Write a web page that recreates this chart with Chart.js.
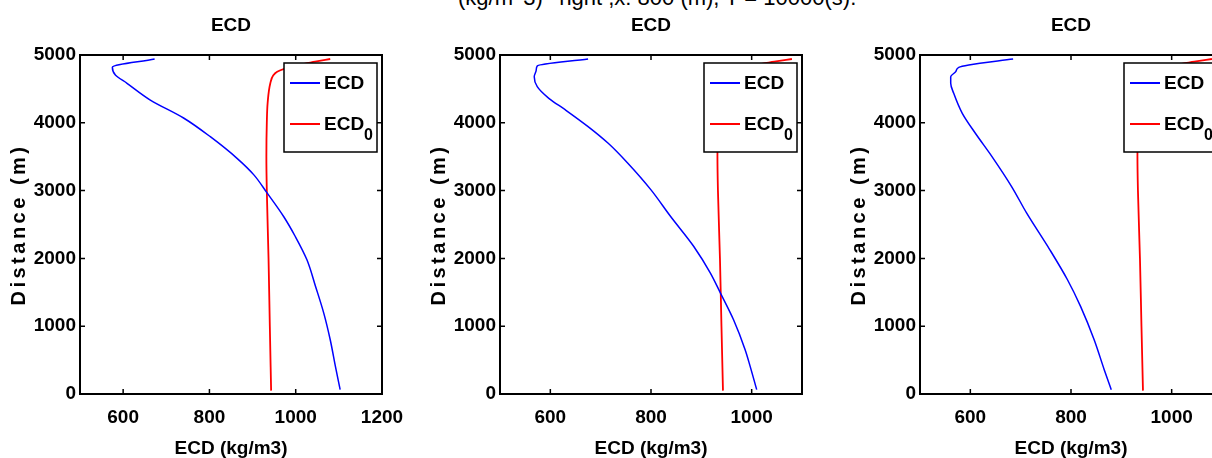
<!DOCTYPE html>
<html>
<head>
<meta charset="utf-8">
<script src="https://cdn.jsdelivr.net/npm/chart.js@4.4.1/dist/chart.umd.min.js"></script>
<style>
    html, body { margin: 0; padding: 0; background: #fff; overflow: hidden; }
    body { width: 1212px; height: 458px; position: relative; }
    .panel { position: absolute; top: 0; width: 420px; height: 458px; }
    #caption {
        position: absolute; left: 458px; top: -13px; white-space: nowrap;
        font: 22px/22px 'Liberation Sans', Arial, sans-serif; color: #000;
    }
</style>
</head>
<body>
<div id="caption">(kg/m^3) ^right ,x: 800 (m), T = 10000(s).</div>
<div class="panel" style="left:0px"><canvas id="c1" width="420" height="458"></canvas></div>
<div class="panel" style="left:420px"><canvas id="c2" width="420" height="458"></canvas></div>
<div class="panel" style="left:840px"><canvas id="c3" width="420" height="458"></canvas></div>
<script>
// values
const yTicks = [0, 1000, 2000, 3000, 4000, 5000];
const xTicksWide = [600, 800, 1000, 1200];
const xTicksNarrow = [600, 800, 1000];

// initial profile (same in all three panels)
const distance0 = [50, 1000, 2000, 3000, 3500, 4000, 4300, 4580, 4700, 4754, 4800, 4860, 4901, 4941];
const ecd0 = [943, 940, 937, 933, 932, 933, 935, 941, 948, 957, 975, 1010, 1045, 1080];

// panel 1
const distance1 = [4941, 4819, 4705, 4583, 4336, 4071, 3795, 3476, 3232, 2962, 2618, 2323, 1979, 1586, 1193, 800, 408, 64];
const ecd1 = [673, 575, 582, 609, 663, 740, 802, 864, 903, 934, 972, 999, 1026, 1046, 1065, 1080, 1092, 1103];

// panel 2
const distance2 = [4941, 4838, 4779, 4681, 4533, 4361, 4190, 3944, 3698, 3404, 3011, 2618, 2176, 1783, 1488, 1095, 653, 408, 64];
const ecd2 = [675, 574, 572, 568, 574, 597, 630, 675, 715, 754, 800, 839, 885, 918, 938, 964, 987, 997, 1010];

// panel 3
const distance3 = [4941, 4853, 4818, 4754, 4681, 4582, 4435, 4140, 3846, 3502, 3060, 2667, 2127, 1685, 1292, 800, 359, 64];
const ecd3 = [685, 597, 577, 571, 561, 561, 567, 584, 610, 643, 682, 712, 758, 793, 819, 846, 866, 880];

const FONT = "'Liberation Sans', Arial, sans-serif";
const Y_TITLE = 'Distance (m)';

Chart.defaults.color = '#000';

function toPoints(xs, ys) {
    return xs.map((x, i) => ({x: x, y: ys[i]}));
}

// wider letter spacing for the y axis title, like the original
const spacingPlugin = {
    id: 'titleSpacing',
    beforeDraw(chart) {
        const ctx = chart.ctx;
        if (ctx._patched) return;
        const orig = ctx.fillText;
        ctx.fillText = function (text, x, y, maxWidth) {
            if (text === Y_TITLE) {
                this.letterSpacing = '3.5px';
                orig.call(this, text, x, y);
                this.letterSpacing = '0px';
            } else {
                orig.call(this, text, x, y, maxWidth);
            }
        };
        ctx._patched = true;
    }
};

// matlab style axes box with inward ticks
const boxPlugin = {
    id: 'matlabBox',
    afterDraw(chart) {
        const ctx = chart.ctx;
        const a = chart.chartArea;
        const len = 5;
        ctx.save();
        ctx.strokeStyle = '#000';
        ctx.lineWidth = 1.5;
        ctx.beginPath();
        chart.scales.x.ticks.forEach(t => {
            const px = chart.scales.x.getPixelForValue(t.value);
            ctx.moveTo(px, a.bottom); ctx.lineTo(px, a.bottom - len);
            ctx.moveTo(px, a.top); ctx.lineTo(px, a.top + len);
        });
        chart.scales.y.ticks.forEach(t => {
            const py = chart.scales.y.getPixelForValue(t.value);
            ctx.moveTo(a.left, py); ctx.lineTo(a.left + len, py);
            ctx.moveTo(a.right, py); ctx.lineTo(a.right - len, py);
        });
        ctx.stroke();
        ctx.lineWidth = 2;
        ctx.strokeRect(a.left, a.top, a.right - a.left, a.bottom - a.top);
        ctx.restore();
    }
};

// legend box inside the plot, with a subscript on ECD0
const legendPlugin = {
    id: 'boxLegend',
    afterDatasetsDraw(chart) {
        const ctx = chart.ctx;
        const a = chart.chartArea;
        const w = 93, h = 89;
        const left = a.right - 5 - w;
        const top = a.top + 8;
        ctx.save();
        ctx.fillStyle = '#fff';
        ctx.fillRect(left, top, w, h);
        ctx.strokeStyle = '#000';
        ctx.lineWidth = 1.5;
        ctx.strokeRect(left, top, w, h);

        const rows = [top + 20, top + 61];
        chart.data.datasets.forEach((ds, i) => {
            const y = rows[i];
            ctx.strokeStyle = ds.borderColor;
            ctx.lineWidth = 2;
            ctx.beginPath();
            ctx.moveTo(left + 6, y);
            ctx.lineTo(left + 36, y);
            ctx.stroke();

            ctx.fillStyle = '#000';
            ctx.textBaseline = 'middle';
            ctx.textAlign = 'left';
            ctx.font = 'bold 19px ' + FONT;
            const main = ds.label.split('_')[0];
            const sub = ds.label.split('_')[1];
            ctx.fillText(main, left + 40, y + 1);
            if (sub) {
                const mw = ctx.measureText(main).width;
                ctx.font = 'bold 16px ' + FONT;
                ctx.fillText(sub, left + 40 + mw, y + 12);
            }
        });
        ctx.restore();
    }
};

function makePanel(canvasId, ecd, distance, xMax, xTicks) {
    return new Chart(document.getElementById(canvasId), {
        type: 'line',
        data: {
            datasets: [{
                label: 'ECD',
                data: toPoints(ecd, distance),
                borderColor: '#0000ff',
                borderWidth: 1.5,
                pointRadius: 0,
                cubicInterpolationMode: 'monotone'
            }, {
                label: 'ECD_0',
                data: toPoints(ecd0, distance0),
                borderColor: '#ff0000',
                borderWidth: 1.8,
                pointRadius: 0,
                cubicInterpolationMode: 'monotone'
            }]
        },
        options: {
            indexAxis: 'y',
            responsive: false,
            animation: false,
            layout: {padding: {left: 0, right: 38, top: 0, bottom: 0}},
            plugins: {
                legend: {display: false},
                tooltip: {enabled: false},
                title: {
                    display: true,
                    text: 'ECD',
                    fullSize: false,
                    color: '#000',
                    font: {family: FONT, size: 19, weight: 'bold', lineHeight: 1},
                    padding: {top: 16, bottom: 20}
                }
            },
            scales: {
                x: {
                    type: 'linear',
                    position: 'bottom',
                    min: 500,
                    max: xMax,
                    grid: {display: false, drawTicks: false},
                    border: {display: false},
                    afterBuildTicks: (scale) => {
                        scale.ticks = xTicks.map(v => ({value: v}));
                    },
                    afterFit: (scale) => { scale.height = 64; },
                    ticks: {
                        padding: 12,
                        maxRotation: 0,
                        callback: (v) => String(v),
                        font: {family: FONT, size: 19, weight: 'bold'}
                    },
                    title: {
                        display: true,
                        text: 'ECD (kg/m3)',
                        font: {family: FONT, size: 19, weight: 'bold', lineHeight: 1},
                        padding: {top: 5, bottom: 0}
                    }
                },
                y: {
                    type: 'linear',
                    position: 'left',
                    min: 0,
                    max: 5000,
                    reverse: false,
                    grid: {display: false, drawTicks: false},
                    border: {display: false},
                    afterBuildTicks: (scale) => {
                        scale.ticks = yTicks.map(v => ({value: v}));
                    },
                    afterFit: (scale) => { scale.width = 80; },
                    ticks: {
                        padding: 4,
                        callback: (v) => String(v),
                        font: {family: FONT, size: 19, weight: 'bold'}
                    },
                    title: {
                        display: true,
                        text: Y_TITLE,
                        font: {family: FONT, size: 20, weight: 'bold', lineHeight: 1},
                        padding: {top: 9, bottom: 0}
                    }
                }
            }
        },
        plugins: [spacingPlugin, legendPlugin, boxPlugin]
    });
}

makePanel('c1', ecd1, distance1, 1200, xTicksWide);
makePanel('c2', ecd2, distance2, 1100, xTicksNarrow);
makePanel('c3', ecd3, distance3, 1100, xTicksNarrow);
</script>
</body>
</html>
